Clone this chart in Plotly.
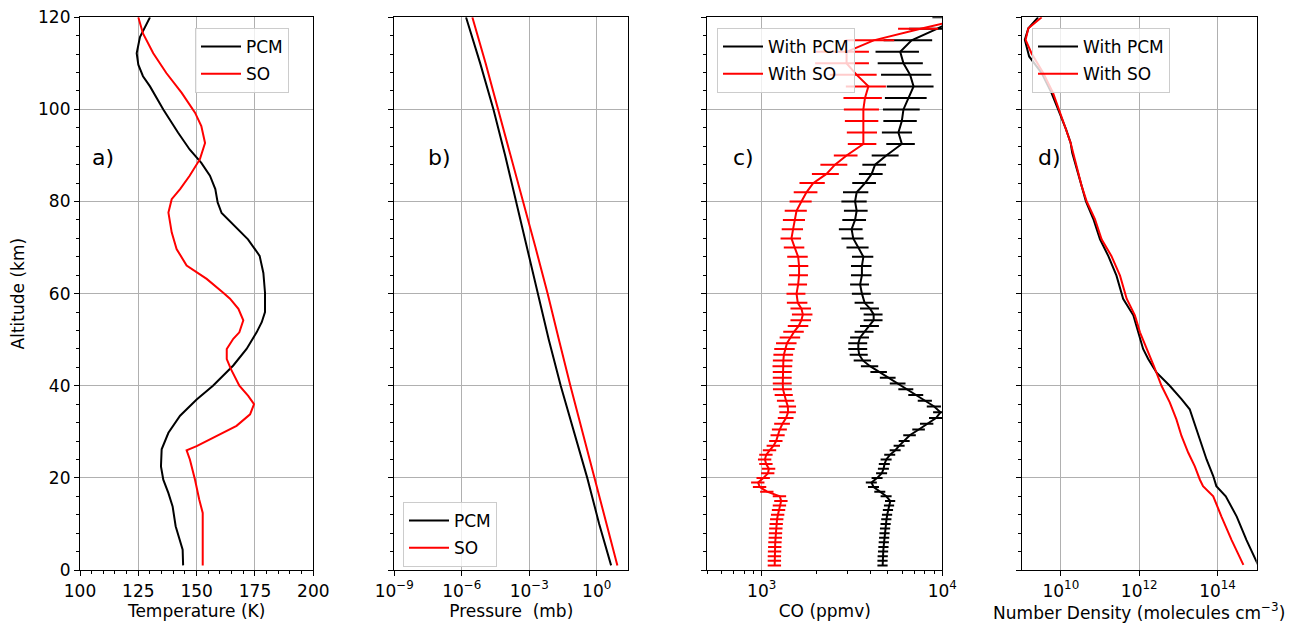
import plotly.graph_objects as go

# ---------------- data ----------------
# a) Temperature profiles (K) vs altitude (km)
t_pcm_alt = [1, 4.4, 9.5, 13.8, 16.7, 19.6, 22.5, 26.2, 29.8, 33.5, 37, 40, 44.4, 48, 51.6, 53.8, 56, 60.2,
             64.5, 68.2, 71.8, 74.7, 77.5, 79.8, 82.7, 85.6, 88.4, 91.3, 95, 100, 105, 107.2, 109.7, 112.2,
             115.7, 120]
t_pcm = [144.2, 144.0, 141.0, 139.7, 137.9, 135.7, 134.7, 135.0, 137.9, 142.9, 150.0, 157.0, 165.7, 171.4,
         175.7, 177.9, 179.3, 179.3, 178.6, 177.0, 172.0, 166.4, 160.7, 159.0, 158.0, 155.7, 152.0, 147.0,
         142.0, 135.7, 130.0, 127.0, 125.0, 124.3, 125.7, 130.0]
t_so_alt = [1, 8, 12.4, 15.3, 19.6, 24, 26, 26.9, 28.4, 31.3, 33.8, 36, 37.8, 40, 43.6, 45.8, 48, 50.2, 51.6,
            54.2, 56.7, 58.9, 60.2, 63.2, 66.1, 69.7, 73.3, 77.6, 80.5, 82.7, 85.6, 89.2, 92.7, 96.4, 99.3,
            103.6, 107.9, 112.2, 116.5, 120]
t_so = [152.6, 152.6, 152.6, 151.1, 149.3, 147.1, 145.7, 150.0, 155.7, 167.1, 172.9, 174.6, 172.1, 168.3,
        164.7, 162.9, 162.9, 165.7, 168.3, 170.0, 167.9, 164.3, 161.4, 154.3, 145.7, 141.4, 139.3, 137.9,
        139.3, 142.9, 147.0, 151.4, 153.6, 152.0, 149.3, 143.6, 137.0, 131.4, 127.0, 125.0]

# b) Pressure (log10 mb)
p_alt = [1, 10, 20, 30, 40, 50, 60, 70, 80, 90, 100, 110, 120]
p_pcm_log10 = [0.64, 0.11, -0.42, -1.00, -1.60, -2.13, -2.62, -3.09, -3.57, -4.07, -4.59, -5.18, -5.81]
p_so_log10 = [0.92, 0.43, -0.09, -0.63, -1.17, -1.68, -2.18, -2.72, -3.27, -3.81, -4.37, -4.94, -5.53]

# c) CO (log10 ppmv) with relative errors (%)
co_alt = [1, 2, 3, 4, 5, 6, 7, 8, 9, 10, 11, 12, 13, 14, 15, 16, 17, 18, 19, 20, 21, 22, 23, 24, 25, 26, 27, 28,
          29.25, 30.5, 31.75, 33, 34.25, 35.5, 36.75, 38, 39.25, 40.5, 41.75, 43, 44.25, 45.5, 46.75, 48,
          49.25, 50.5, 51.75, 53, 54.25, 55.5, 56.75, 58,
          60, 62, 64, 66, 68, 70, 72, 74, 76, 78, 80, 82, 84, 86, 88, 90,
          92.5, 95, 97.5, 100, 102.5, 105, 107.5, 110, 112.5, 115, 117.5, 120]
co_pcm_log10 = [3.670, 3.670, 3.671, 3.673, 3.675, 3.677, 3.679, 3.681, 3.684, 3.687, 3.691, 3.695, 3.700, 3.706,
                3.712, 3.690, 3.655, 3.620, 3.608, 3.640, 3.665, 3.675, 3.680, 3.690, 3.710, 3.740, 3.762, 3.790,
                3.820, 3.870, 3.915, 3.965, 3.990, 3.955, 3.905, 3.855, 3.800, 3.755, 3.700, 3.650, 3.600, 3.560,
                3.540, 3.535, 3.535, 3.545, 3.570, 3.600, 3.620, 3.620, 3.600, 3.570,
                3.555, 3.545, 3.555, 3.555, 3.563, 3.535, 3.507, 3.498, 3.517, 3.526, 3.517, 3.526, 3.572, 3.609,
                3.628, 3.690,
                3.776, 3.757, 3.776, 3.785, 3.813, 3.841, 3.822, 3.785, 3.767, 3.830, 3.970, 4.100]
co_so_log10 = [3.072, 3.072, 3.072, 3.073, 3.074, 3.075, 3.077, 3.078, 3.080, 3.082, 3.085, 3.090, 3.095, 3.100,
               3.108, 3.100, 3.030, 2.990, 2.980, 3.010, 3.035, 3.040, 3.025, 3.018, 3.025, 3.045, 3.066, 3.080,
               3.090, 3.100, 3.115, 3.135, 3.146, 3.145, 3.135, 3.125, 3.118, 3.117, 3.117, 3.117, 3.118, 3.120,
               3.123, 3.130, 3.140, 3.160, 3.180, 3.205, 3.220, 3.228, 3.220, 3.200,
               3.193, 3.202, 3.207, 3.207, 3.202, 3.183, 3.165, 3.174, 3.183, 3.193, 3.220, 3.248, 3.285, 3.359,
               3.406, 3.470,
               3.563, 3.563, 3.563, 3.563, 3.572, 3.591, 3.526, 3.470, 3.470, 3.620, 3.880, 4.150]
co_pcm_err_pct = [6.5] * 15 + [7] * 13 + \
    [8, 8, 8.5, 8.5, 9, 9, 9, 9.5, 9.5, 10, 10, 10.5, 11, 11, 11.5, 12, 12, 12, 12, 12, 12, 12, 12, 12] + \
    [12, 12, 13, 13, 13.5, 14, 14, 15, 15, 15, 16, 16, 15, 15, 15, 17] + \
    [18, 19, 21, 23, 26, 29, 31, 28, 27, 30, 30, 30]
co_so_err_pct = [8.5] * 28 + \
    [9, 9.5, 10, 10, 10.5, 11, 11, 11.5, 12, 12, 12, 12, 12.5, 12.5, 12.5, 13, 13, 13, 13, 13, 13, 13, 13, 13] + \
    [12, 12, 12, 12.5, 13, 13, 13, 13.5, 14, 14, 14, 15, 16, 17, 17, 15] + \
    [18, 19, 21, 22, 24, 25, 29, 33, 33, 30, 25, 20]

# d) Number density (log10 molecules cm^-3)
n_pcm_alt = [1, 6.5, 11.6, 16, 18.2, 20.4, 24, 28.4, 32.7, 34.9, 37.1, 40, 42.9, 45.8, 48, 51.6, 55.3, 58.9,
             63.9, 68.2, 71.8, 76.2, 80, 83.4, 87.7, 90.6, 92.7, 95.7, 100, 103.6, 107.9, 111.5, 115.1, 117.6, 120]
n_pcm_log10 = [15.04, 14.74, 14.49, 14.21, 13.97, 13.89, 13.72, 13.55, 13.38, 13.29, 13.08, 12.78, 12.44, 12.23,
               12.10, 11.97, 11.85, 11.59, 11.42, 11.21, 11.00, 10.83, 10.64, 10.53, 10.38, 10.29, 10.25, 10.13,
               9.93, 9.76, 9.51, 9.19, 9.08, 9.17, 9.42]
n_so_alt = [1.1, 6.5, 11.6, 16, 18.2, 19.6, 22.5, 25.5, 29.1, 32.7, 36.4, 40, 44.4, 48, 51.6, 55.3, 58.9, 63.9,
            68.2, 71.8, 76.2, 80, 83.4, 87.7, 90.6, 92.7, 96.4, 100, 103.6, 107.9, 112.2, 115.1, 117.6, 120]
n_so_log10 = [14.66, 14.36, 14.10, 13.89, 13.63, 13.55, 13.42, 13.25, 13.08, 12.95, 12.78, 12.57, 12.37, 12.19,
              12.02, 11.89, 11.68, 11.51, 11.29, 11.04, 10.87, 10.66, 10.53, 10.40, 10.31, 10.25, 10.10, 9.95,
              9.80, 9.55, 9.25, 9.10, 9.17, 9.51]

# ---------------- figure ----------------
FONT = "DejaVu Sans"
BLACK = "#000000"
RED = "#ff0000"
LW = 2

co_pcm = [10 ** v for v in co_pcm_log10]
co_so = [10 ** v for v in co_so_log10]
co_pcm_err = [c * e / 100 for c, e in zip(co_pcm, co_pcm_err_pct)]
co_so_err = [c * e / 100 for c, e in zip(co_so, co_so_err_pct)]

fig = go.Figure()
def add(x, y, name, color, xa, ya, leg, grp, err=None):
    kw = {}
    if err is not None:
        kw["error_x"] = dict(type="data", array=err, visible=True, color=color, thickness=2, width=0)
    fig.add_trace(go.Scatter(x=x, y=y, mode="lines", name=name, line=dict(color=color, width=LW),
                             xaxis=xa, yaxis=ya, legend=leg, legendgroup=grp, **kw))

add(t_pcm, t_pcm_alt, "PCM", BLACK, "x", "y", "legend", "a1")
add(t_so, t_so_alt, "SO", RED, "x", "y", "legend", "a2")
add([10 ** v for v in p_pcm_log10], p_alt, "PCM", BLACK, "x2", "y2", "legend2", "b1")
add([10 ** v for v in p_so_log10], p_alt, "SO", RED, "x2", "y2", "legend2", "b2")
add(co_pcm, co_alt, "With PCM", BLACK, "x3", "y3", "legend3", "c1", co_pcm_err)
add(co_so, co_alt, "With SO", RED, "x3", "y3", "legend3", "c2", co_so_err)
add([10 ** v for v in n_pcm_log10], n_pcm_alt, "With PCM", BLACK, "x4", "y4", "legend4", "d1")
add([10 ** v for v in n_so_log10], n_so_alt, "With SO", RED, "x4", "y4", "legend4", "d2")

W, H = 1304, 627
OFF = 8  # page body margin in the browser
def px_x(p):
    return (p - OFF) / W
def px_y(p):
    return 1 - (p - OFF) / H

doms = [(80, 313.3), (394.3, 628.3), (707.3, 942.3), (1021.7, 1256.7)]
ydom = [px_y(570), px_y(17.3)]

axis_common = dict(showline=True, linecolor="black", linewidth=1.2, mirror=True, ticks="outside",
                   ticklen=5, tickwidth=1.2, tickcolor="black", showgrid=True, gridcolor="#b0b0b0",
                   gridwidth=1, zeroline=False, automargin=False, ticklabeloverflow="allow",
                   tickfont=dict(family=FONT, size=17, color="black"),
                   title_font=dict(family=FONT, size=17, color="black"))

def sup(e):
    return "10<sup>" + str(e).replace("-", "\u2212") + "</sup>"

layout = dict(width=W, height=H, margin=dict(l=0, r=0, t=0, b=0, autoexpand=False), plot_bgcolor="white",
              paper_bgcolor="white", font=dict(family=FONT, size=17, color="black"))

layout["xaxis"] = dict(axis_common, domain=[px_x(doms[0][0]), px_x(doms[0][1])], anchor="y",
                       range=[100, 200], tickvals=[100, 125, 150, 175, 200],
                       minor=dict(ticks="outside", dtick=5, ticklen=3, tickcolor="black", showgrid=False),
                       title=dict(text="Temperature (K)", standoff=5))
layout["xaxis2"] = dict(axis_common, domain=[px_x(doms[1][0]), px_x(doms[1][1])], anchor="y2", type="log",
                        range=[-9, 1.405], tickvals=[1e-9, 1e-6, 1e-3, 1],
                        ticktext=[sup(-9), sup(-6), sup(-3), sup(0)],
                        title=dict(text="Pressure\u00a0 (mb)", standoff=5))
minor_c = [500, 600, 700, 800, 900, 2000, 3000, 4000, 5000, 6000, 7000, 8000, 9000]
layout["xaxis3"] = dict(axis_common, domain=[px_x(doms[2][0]), px_x(doms[2][1])], anchor="y3", type="log",
                        range=[2.699, 4.0], tickvals=[1e3, 1e4], ticktext=[sup(3), sup(4)],
                        minor=dict(ticks="outside", tickmode="array", tickvals=minor_c, ticklen=3,
                                   tickcolor="black", showgrid=False),
                        title=dict(text="CO (ppmv)", standoff=5))
layout["xaxis4"] = dict(axis_common, domain=[px_x(doms[3][0]), px_x(doms[3][1])], anchor="y4", type="log",
                        range=[9, 15], tickvals=[1e10, 1e12, 1e14], ticktext=[sup(10), sup(12), sup(14)],
                        title=dict(text="Number Density (molecules cm<sup>\u22123</sup>)", standoff=5))

for i, key in enumerate(["yaxis", "yaxis2", "yaxis3", "yaxis4"]):
    ax = dict(axis_common, domain=ydom, anchor=["x", "x2", "x3", "x4"][i], range=[0, 120],
              tickvals=[0, 20, 40, 60, 80, 100, 120], showticklabels=(i == 0),
              minor=dict(ticks="outside", dtick=4, ticklen=3, tickcolor="black", showgrid=False))
    if i == 0:
        ax["title"] = dict(text="Altitude (km)", standoff=12)
    layout[key] = ax

leg_common = dict(bgcolor="rgba(255,255,255,0.8)", bordercolor="#cccccc", borderwidth=1,
                  font=dict(family=FONT, size=17, color="black"), xanchor="left", yanchor="top",
                  itemwidth=40, tracegroupgap=2)
layout["legend"] = dict(leg_common, x=px_x(195), y=px_y(28))
layout["legend2"] = dict(leg_common, x=px_x(403), y=px_y(502))
layout["legend3"] = dict(leg_common, x=px_x(717), y=px_y(28))
layout["legend4"] = dict(leg_common, x=px_x(1032), y=px_y(28))

labels = [("a)", 103), ("b)", 439), ("c)", 743), ("d)", 1049)]
layout["annotations"] = [dict(text=t, x=px_x(xp), y=px_y(157), xref="paper", yref="paper", showarrow=False,
                              xanchor="center", yanchor="middle",
                              font=dict(family=FONT, size=22, color="black")) for t, xp in labels]

fig.update_layout(layout)
fig.write_html("out.html")
